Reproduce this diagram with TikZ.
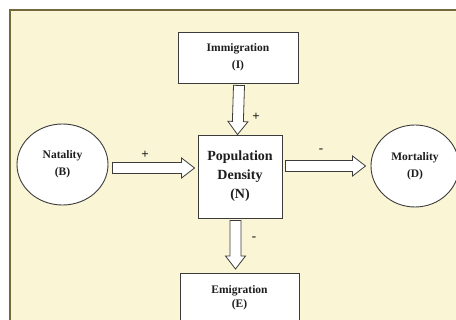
\documentclass[tikz,border=0pt]{standalone}
\usepackage{fontspec}
\setmainfont{Liberation Serif}
\usetikzlibrary{calc,shapes.geometric}
\definecolor{bgyellow}{RGB}{250,245,212}
\definecolor{framecol}{RGB}{115,105,60}
\definecolor{inkcol}{RGB}{60,60,60}
\definecolor{txtcol}{RGB}{30,30,30}
\newcommand\blkarrow[2]{%
  \draw[blockarrow] let \p1=(#1), \p2=(#2),
    \n1={atan2(\y2-\y1,\x2-\x1)},
    \n2={veclen(\x2-\x1,\y2-\y1)-13} in
    ($(#1)+({\n1+90}:5.5pt)$)
    -- ($(#1)+(\n1:\n2)+({\n1+90}:5.5pt)$)
    -- ($(#1)+(\n1:\n2)+({\n1+90}:10pt)$)
    -- (#2)
    -- ($(#1)+(\n1:\n2)+({\n1-90}:10pt)$)
    -- ($(#1)+(\n1:\n2)+({\n1-90}:5.5pt)$)
    -- ($(#1)+({\n1-90}:5.5pt)$) -- cycle;}
\begin{document}
\begin{tikzpicture}[x=1pt,y=-1pt,
  box/.style={draw=inkcol,line width=0.9pt,fill=white,rectangle,inner sep=0pt,
    align=center,text=txtcol,font=\bfseries\fontsize{11.5}{17}\selectfont},
  oval/.style={draw=inkcol,line width=0.9pt,fill=white,ellipse,inner sep=0pt,
    align=center,text=txtcol,font=\bfseries\fontsize{11.5}{17}\selectfont},
  blockarrow/.style={draw=inkcol,line width=0.8pt,fill=white,line join=miter},
  sign/.style={text=txtcol,font=\bfseries\fontsize{13}{13}\selectfont,inner sep=0pt}]
\useasboundingbox (0,0) rectangle (456,320);
\clip (0,0) rectangle (456,320);
\fill[white] (0,0) rectangle (456,320);
\draw[framecol,line width=1.5pt,fill=bgyellow] (10,10) rectangle (470,335);

\node[box,minimum width=120pt,minimum height=51pt] (imm) at (238,57.5) {Immigration\\(I)};
\node[box,minimum width=84pt,minimum height=83pt,font=\bfseries\fontsize{14}{19}\selectfont] (pd) at (240,176.5) {Population\\Density\\(N)};
\node[oval,minimum width=91pt,minimum height=81pt] (nat) at (62.5,164.5) {Natality\\(B)};
\node[oval,minimum width=88pt,minimum height=82pt] (mort) at (415,166) {Mortality\\(D)};
\node[box,minimum width=119pt,minimum height=54pt,anchor=north] (emi) at (239.5,273) {\raisebox{8pt}{\shortstack{Emigration\\(E)}}};

\coordinate (a1s) at ($(imm.south)+(1,2)$);
\coordinate (a1t) at ($(pd.north)+(-2.5,0)$);
\coordinate (a2s) at ($(nat.east)+(4,3.5)$);
\coordinate (a2t) at ($(pd.west |- a2s)+(-3,0)$);
\coordinate (a3s) at ($(pd.east |- mort.west)+(3,0)$);
\coordinate (a3t) at ($(mort.west)+(-5,0)$);
\coordinate (a4s) at ($(pd.south)+(-4.5,2)$);
\coordinate (a4t) at ($(emi.north)+(-4,-4)$);

\blkarrow{a1s}{a1t}
\blkarrow{a2s}{a2t}
\blkarrow{a3s}{a3t}
\blkarrow{a4s}{a4t}

\node[sign] (s1) at (256,117) {+};
\node[sign] (s2) at (145,155) {+};
\node[sign] (s3) at (321,151) {-};
\node[sign] (s4) at (254,239) {-};
\end{tikzpicture}
\end{document}
